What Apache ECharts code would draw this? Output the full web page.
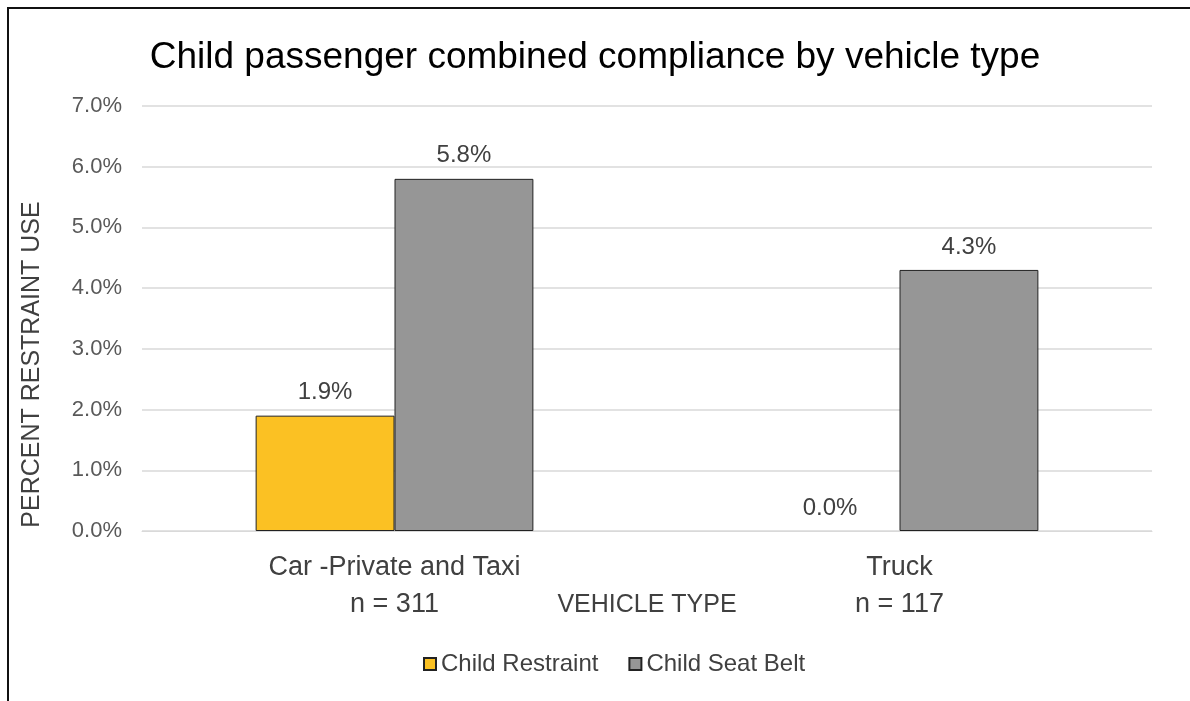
<!DOCTYPE html>
<html>
<head>
<meta charset="utf-8">
<script src="https://cdn.jsdelivr.net/npm/echarts@6/dist/echarts.min.js"></script>
<style>
  html, body { margin: 0; padding: 0; background: #fff; }
  .frame {
    position: absolute; left: 7px; top: 7px; right: 0; bottom: 0;
    border-left: 2px solid #111; border-top: 2px solid #111;
  }
  #chart { position: absolute; left: 0; top: 0; width: 1190px; height: 701px; }
</style>
</head>
<body>
<div class="frame"></div>
<div id="chart"></div>
<script>
  // data
  var categories = ['Car -Private and Taxi\nn = 311', 'Truck\nn = 117'];
  var seriesNames = ['Child Restraint', 'Child Seat Belt'];
  var restraintValues = [1.9, 0.0];
  var seatBeltValues = [5.8, 4.3];
  var seriesColors = ['#FBC123', '#969696'];

  var myChart = echarts.init(document.getElementById('chart'));
  var font = 'Liberation Sans, Arial, sans-serif';

  function barSeries(name, data, color) {
    return {
      name: name,
      type: 'bar',
      // zero bars have no visible outline in the original
      data: data.map(function (v) {
        return v === 0 ? { value: v, itemStyle: { borderWidth: 0 } } : v;
      }),
      barGap: '0%',
      barCategoryGap: '45%',
      itemStyle: { color: color, borderColor: '#222', borderWidth: 1 },
      label: {
        show: true,
        position: 'top',
        distance: 11,
        fontFamily: font,
        fontSize: 24,
        color: '#404040',
        formatter: function (p) { return p.value.toFixed(1) + '%'; }
      }
    };
  }

  var option = {
    backgroundColor: 'transparent',
    animation: false,
    title: {
      text: 'Child passenger combined compliance by vehicle type',
      left: 'center',
      top: 34,
      textStyle: { fontFamily: font, fontSize: 37, fontWeight: 'normal', color: '#000' }
    },
    legend: {
      bottom: 20,
      left: 418,
      itemWidth: 12,
      itemHeight: 12,
      itemGap: 30,
      icon: 'rect',
      textStyle: { fontFamily: font, fontSize: 24, color: '#404040' },
      data: seriesNames
    },
    grid: { left: 142, right: 38, top: 106, bottom: 170, containLabel: false },
    xAxis: {
      type: 'category',
      data: categories,
      name: 'VEHICLE TYPE',
      nameLocation: 'middle',
      nameGap: 62,
      nameMoveOverlap: false,
      nameTextStyle: { fontFamily: font, fontSize: 25, color: '#404040' },
      axisLine: { lineStyle: { color: '#d9d9d9', width: 1 } },
      axisTick: { show: false },
      axisLabel: { fontFamily: font, fontSize: 27, color: '#404040', lineHeight: 37, margin: 18 }
    },
    yAxis: {
      type: 'value',
      min: 0,
      max: 7,
      interval: 1,
      name: 'PERCENT RESTRAINT USE',
      nameLocation: 'middle',
      nameGap: 97,
      nameMoveOverlap: false,
      // the title sits lower than the axis middle in the original
      nameTextStyle: { fontFamily: font, fontSize: 25, color: '#404040', padding: [0, 92, 0, 0] },
      axisLine: { show: false },
      axisTick: { show: false },
      splitLine: { lineStyle: { color: '#d9d9d9', width: 1.5 } },
      axisLabel: {
        fontFamily: font, fontSize: 22, color: '#595959', margin: 20,
        formatter: function (v) { return v.toFixed(1) + '%'; }
      }
    },
    series: [
      barSeries(seriesNames[0], restraintValues, seriesColors[0]),
      barSeries(seriesNames[1], seatBeltValues, seriesColors[1])
    ]
  };
  myChart.setOption(option);
</script>
</body>
</html>
